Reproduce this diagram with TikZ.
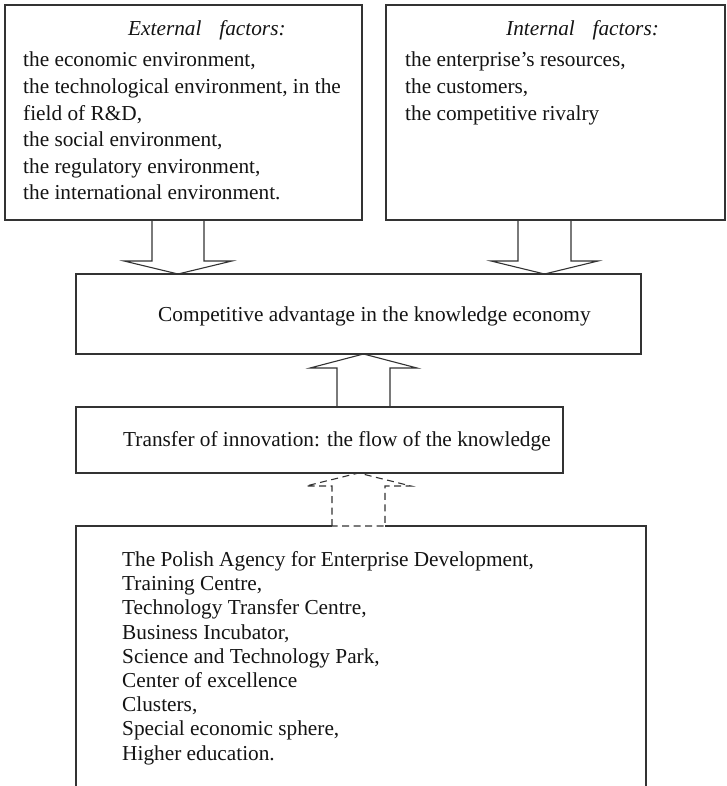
\documentclass[tikz,border=0pt]{standalone}
\usepackage{fontspec}
\setmainfont{Liberation Serif}
\begin{document}
\begin{tikzpicture}[x=1pt,y=-1pt,
  box/.style={draw=black!80, line width=1.1pt, inner sep=0pt, outer sep=0pt, anchor=north west},
  txt/.style={anchor=base west, inner sep=0pt, font=\fontsize{21.3}{26}\selectfont, text=black!92},
  blockarrow/.style={draw=black!80, line width=1.1pt, line join=miter},
  dashedarrow/.style={blockarrow, dash pattern=on 7pt off 4.5pt}]
\clip (0,0) rectangle (726,786);
\fill[white] (0,0) rectangle (726,786);

% boxes
\node[box, minimum width=357pt, minimum height=215pt] (ext) at (5,5) {};
\node[box, minimum width=339pt, minimum height=215pt] (int) at (386,5) {};
\node[box, minimum width=565pt, minimum height=80pt] (adv) at (76,274) {};
\node[box, minimum width=487pt, minimum height=66pt] (tra) at (76,407) {};
\node[box, minimum width=570pt, minimum height=320pt] (agn) at (76,526) {};

% external factors
\node[txt] (exttitle) at (128,36) {\itshape External\hspace{12.5pt} factors:};
\foreach \t [count=\i] in {{the economic environment,},
  {the technological environment, in the},
  {field of R\&D,},
  {the social environment,},
  {the regulatory environment,},
  {the international environment.}}
  \node[txt] (ext-\i) at (23,66.7+26.66*\i-26.66) {\t};

% internal factors
\node[txt] (inttitle) at (506,36) {\itshape Internal\hspace{12.5pt} factors:};
\foreach \t [count=\i] in {{the enterprise’s resources,},
  {the customers,},
  {the competitive rivalry}}
  \node[txt] (int-\i) at (405,66.7+26.66*\i-26.66) {\t};

% central boxes
\node[txt] (advtext) at (158,321) {Competitive advantage in the knowledge economy};
\node[txt] (tratext) at (123,446) {Transfer of innovation: the flow of the knowledge};

% institutions
\foreach \t [count=\i] in {{The Polish Agency for Enterprise Development,},
  {Training Centre,},
  {Technology Transfer Centre,},
  {Business Incubator,},
  {Science and Technology Park,},
  {Center of excellence},
  {Clusters,},
  {Special economic sphere,},
  {Higher education.}}
  \node[txt] (agn-\i) at (122,566.5+24.2*\i-24.2) {\t};

% block arrows
\coordinate (a1top) at (ext.south -| 178,0);
\coordinate (a1tip) at (adv.north -| 178,0);
\draw[blockarrow] (a1top) ++(-26,0) -- ++(0,41) -- ++(-28,0) -- (a1tip)
  -- ++(54,-13) -- ++(-28,0) -- ++(0,-41);

\coordinate (a2top) at (int.south -| 544.5,0);
\coordinate (a2tip) at (adv.north -| 544.5,0);
\draw[blockarrow] (a2top) ++(-26.5,0) -- ++(0,41) -- ++(-27,0) -- (a2tip)
  -- ++(53.5,-13) -- ++(-27,0) -- ++(0,-41);

\coordinate (a3base) at (tra.north -| 363.5,0);
\coordinate (a3tip) at (adv.south -| 363.5,0);
\draw[blockarrow] (a3base) ++(-26.5,0) -- ++(0,-39) -- ++(-27,0) -- (a3tip)
  -- ++(53.5,14) -- ++(-27,0) -- ++(0,39);

\coordinate (a4base) at (agn.north -| 358.5,0);
\coordinate (a4tip) at (tra.south -| 358.5,0);
\draw[white, line width=1.6pt] (a4base) ++(-26.5,0) -- ++(53,0);
\draw[dashedarrow] (a4base) ++(-26.5,0) -- ++(0,-40) -- ++(-26,0) -- (a4tip)
  -- ++(52.5,13) -- ++(-26,0) -- ++(0,40) -- cycle;
\end{tikzpicture}
\end{document}
